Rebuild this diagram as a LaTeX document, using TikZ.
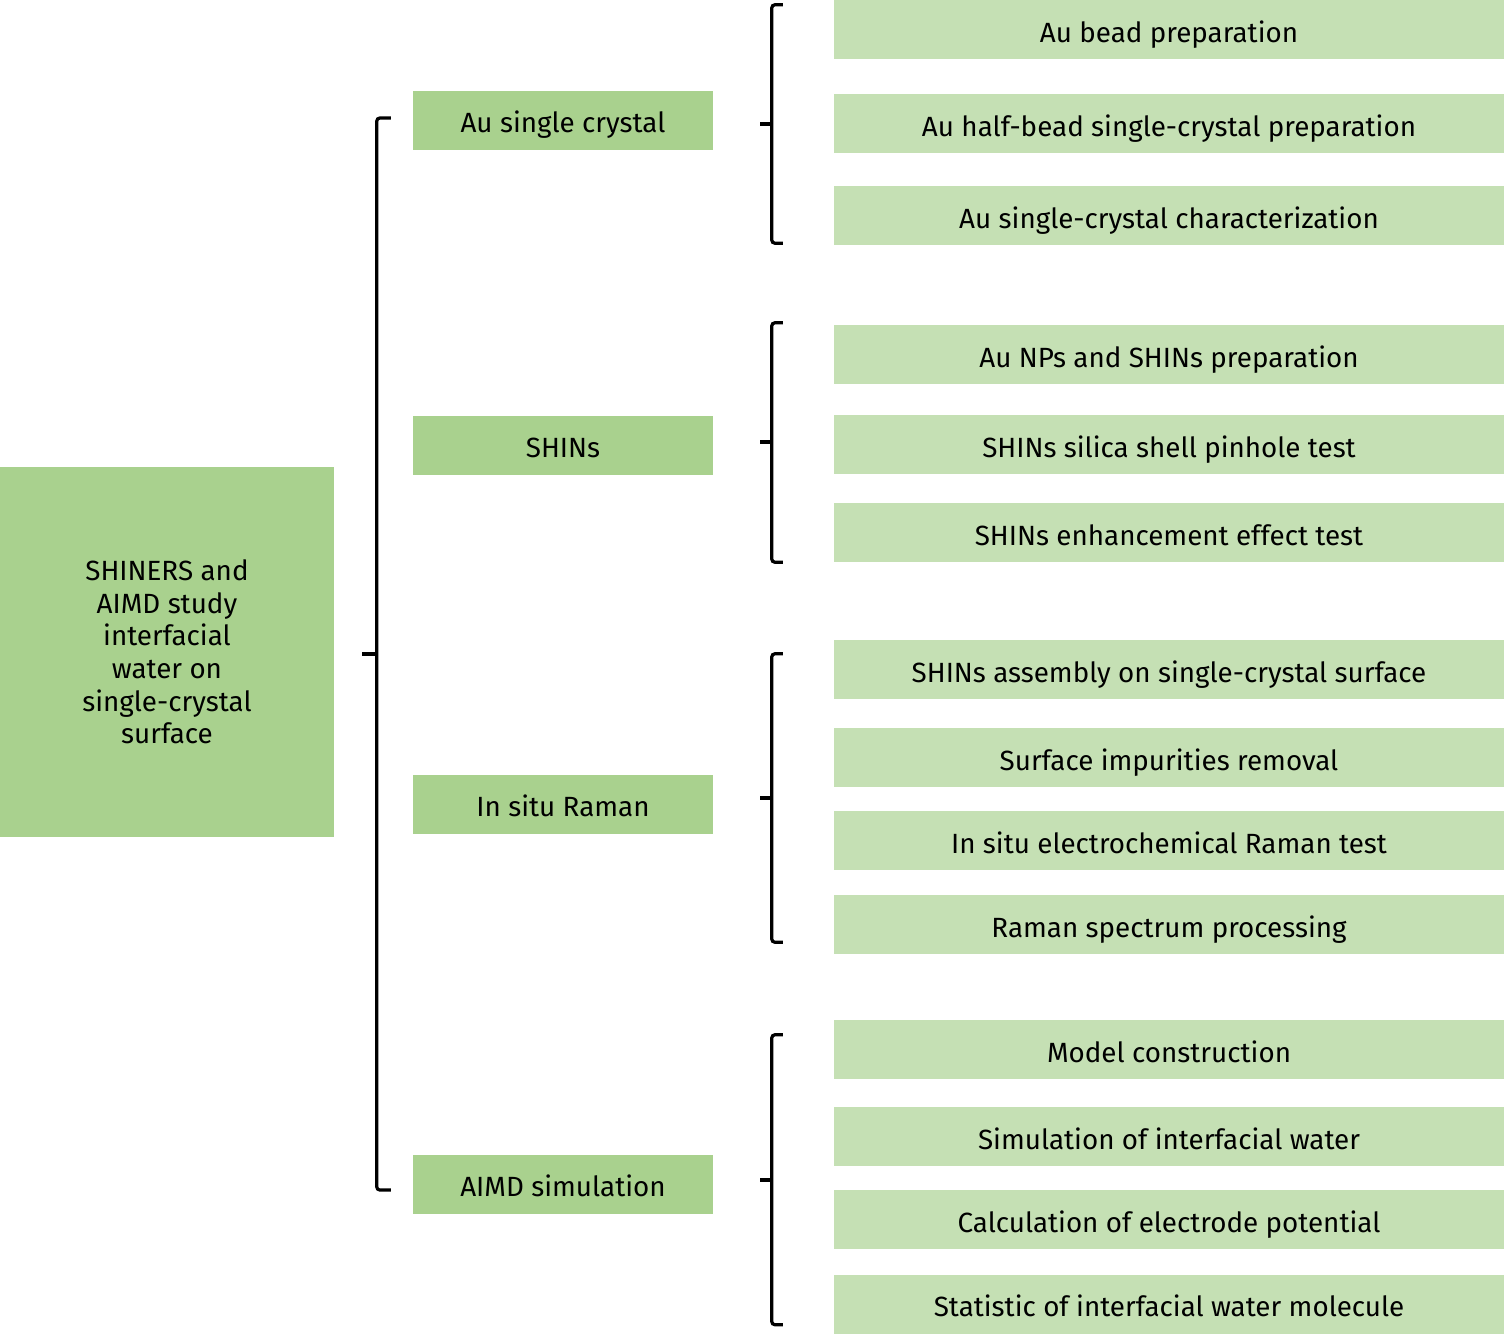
\documentclass[tikz,border=0pt]{standalone}
\usepackage{fontspec}
\setmainfont{Fira Sans}
\definecolor{midgreen}{HTML}{A9D18E}
\definecolor{subgreen}{HTML}{C5E0B4}
\tikzset{
  mainbox/.style={fill=midgreen, minimum width=334pt, minimum height=370pt, align=center, inner sep=0pt},
  midbox/.style={fill=midgreen, minimum width=300pt, minimum height=59pt, inner sep=0pt, text height=27pt, text depth=2pt},
  subbox/.style={fill=subgreen, minimum width=670pt, minimum height=59pt, inner sep=0pt, text height=27pt, text depth=2pt},
  brace/.style={line width=3.2pt, rounded corners=3pt}
}
\begin{document}
\begin{tikzpicture}[x=1pt, y=-1pt, font=\fontsize{27.8}{32.6}\selectfont]
  \useasboundingbox (0,0) rectangle (1504,1334);
  % left box
  \node[mainbox] (main) at (167,652) {SHINERS and\\AIMD study\\interfacial\\water on\\single-crystal\\surface};
  % middle boxes
  \node[midbox] (asc) at (563,120) {Au single crystal};
  \node[midbox] (shin) at (563,445) {SHINs};
  \node[midbox] (raman) at (563,804) {In situ Raman};
  \node[midbox] (aimd) at (563,1184) {AIMD simulation};
  % right boxes
  \node[subbox] (b1) at (1169,29.5) {Au bead preparation};
  \node[subbox] (b2) at (1169,123.5) {Au half-bead single-crystal preparation};
  \node[subbox] (b3) at (1169,215.5) {Au single-crystal characterization};
  \node[subbox] (b4) at (1169,354.5) {Au NPs and SHINs preparation};
  \node[subbox] (b5) at (1169,444.5) {SHINs silica shell pinhole test};
  \node[subbox] (b6) at (1169,532.5) {SHINs enhancement effect test};
  \node[subbox] (b7) at (1169,669.5) {SHINs assembly on single-crystal surface};
  \node[subbox] (b8) at (1169,757.5) {Surface impurities removal};
  \node[subbox] (b9) at (1169,840.5) {In situ electrochemical Raman test};
  \node[subbox] (b10) at (1169,924.5) {Raman spectrum processing};
  \node[subbox] (b11) at (1169,1049.5) {Model construction};
  \node[subbox] (b12) at (1169,1136.5) {Simulation of interfacial water};
  \node[subbox] (b13) at (1169,1219.5) {Calculation of electrode potential};
  \node[subbox] (b14) at (1169,1304) {Statistic of interfacial water molecule};
  % brackets
  \draw[brace] ([xshift=-22pt,yshift=2pt]asc.west) -- ++(-14,0) |- ([xshift=-22pt,yshift=-6pt]aimd.west);
  \draw[brace] ([xshift=28pt,yshift=-2pt]main.east) -- ++(15,0);
  \draw[brace] ([xshift=-51pt,yshift=-5pt]b1.north west) -- ++(-11,0) |- ([xshift=-51pt,yshift=2pt]b3.south west);
  \draw[brace] ([xshift=47pt,yshift=-4pt]asc.east) -- ++(12,0);
  \draw[brace] ([xshift=-51pt,yshift=2pt]b4.north west) -- ++(-11,0) |- ([xshift=-51pt,yshift=0pt]b6.south west);
  \draw[brace] ([xshift=47pt,yshift=3pt]shin.east) -- ++(12,0);
  \draw[brace] ([xshift=-51pt,yshift=-14pt]b7.north west) -- ++(-11,0) |- ([xshift=-51pt,yshift=12pt]b10.south west);
  \draw[brace] ([xshift=47pt,yshift=6pt]raman.east) -- ++(12,0);
  \draw[brace] ([xshift=-51pt,yshift=-15pt]b11.north west) -- ++(-11,0) |- ([xshift=-51pt,yshift=9pt]b14.south west);
  \draw[brace] ([xshift=47pt,yshift=4pt]aimd.east) -- ++(12,0);
\end{tikzpicture}
\end{document}
